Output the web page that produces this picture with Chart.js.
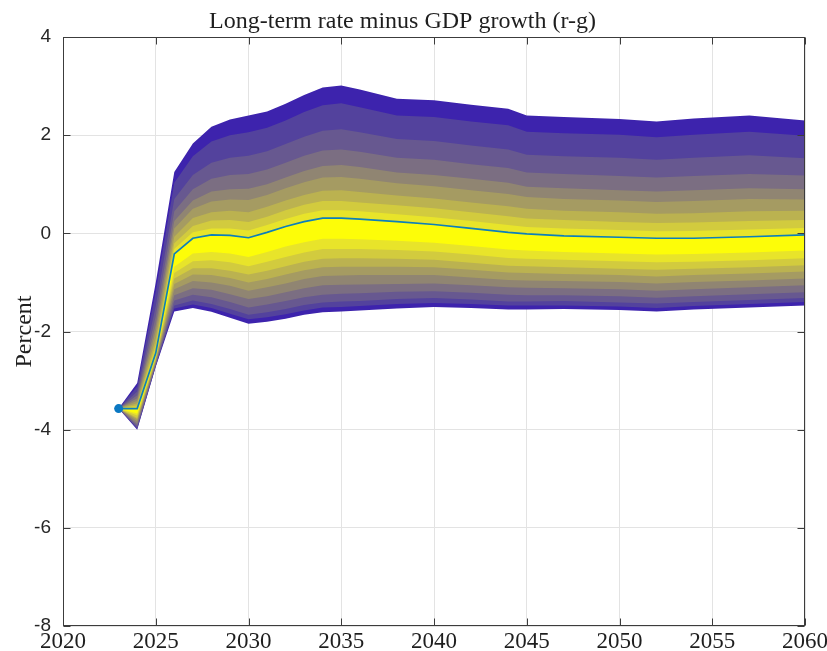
<!DOCTYPE html>
<html>
<head>
<meta charset="utf-8">
<script src="https://cdn.jsdelivr.net/npm/chart.js@4.4.1/dist/chart.umd.min.js"></script>
<style>
  html, body { margin: 0; padding: 0; background: #ffffff; overflow: hidden; }
  canvas { display: block; }
</style>
</head>
<body>
<canvas id="c" width="827" height="651"></canvas>
<script>
// Projection years
const years = [2023, 2024, 2025, 2026, 2027, 2028, 2029, 2030, 2031, 2032, 2033, 2034, 2035, 2036, 2038, 2040, 2042, 2044, 2045, 2047, 2050, 2052, 2054, 2057, 2060];

// Central projection of r-g (percent)
const projection = [-3.57, -3.57, -2.44, -0.42, -0.10, -0.03, -0.04, -0.09, 0.02, 0.14, 0.24, 0.31, 0.31, 0.29, 0.24, 0.18, 0.10, 0.02, -0.01, -0.05, -0.08, -0.10, -0.10, -0.07, -0.03];

// Fan edges, lowest (f00) to highest (f20); f11 is the central projection
const f00 = [-3.57, -4.00, -2.72, -1.59, -1.52, -1.60, -1.72, -1.84, -1.80, -1.74, -1.66, -1.61, -1.59, -1.57, -1.53, -1.50, -1.52, -1.55, -1.55, -1.54, -1.56, -1.59, -1.55, -1.51, -1.47];
const f01 = [-3.57, -3.98, -2.71, -1.53, -1.45, -1.52, -1.64, -1.75, -1.71, -1.65, -1.57, -1.51, -1.50, -1.48, -1.44, -1.42, -1.44, -1.47, -1.47, -1.47, -1.49, -1.52, -1.48, -1.44, -1.40];
const f02 = [-3.57, -3.96, -2.69, -1.47, -1.37, -1.44, -1.54, -1.66, -1.61, -1.54, -1.46, -1.41, -1.39, -1.38, -1.34, -1.32, -1.35, -1.39, -1.39, -1.38, -1.41, -1.43, -1.40, -1.36, -1.32];
const f03 = [-3.57, -3.92, -2.67, -1.37, -1.25, -1.30, -1.40, -1.51, -1.45, -1.38, -1.30, -1.25, -1.23, -1.22, -1.19, -1.18, -1.21, -1.25, -1.26, -1.26, -1.28, -1.31, -1.28, -1.24, -1.20];
const f04 = [-3.57, -3.88, -2.64, -1.26, -1.12, -1.15, -1.24, -1.34, -1.28, -1.20, -1.12, -1.06, -1.05, -1.04, -1.03, -1.02, -1.06, -1.10, -1.11, -1.12, -1.14, -1.17, -1.14, -1.10, -1.06];
const f05 = [-3.57, -3.83, -2.61, -1.14, -0.97, -1.00, -1.07, -1.17, -1.10, -1.02, -0.93, -0.87, -0.86, -0.85, -0.85, -0.85, -0.90, -0.95, -0.96, -0.97, -0.99, -1.02, -0.99, -0.96, -0.92];
const f06 = [-3.57, -3.79, -2.59, -1.03, -0.84, -0.85, -0.91, -1.00, -0.93, -0.84, -0.75, -0.69, -0.68, -0.68, -0.68, -0.69, -0.74, -0.80, -0.81, -0.83, -0.85, -0.88, -0.85, -0.82, -0.78];
const f07 = [-3.57, -3.76, -2.56, -0.92, -0.71, -0.71, -0.76, -0.84, -0.76, -0.67, -0.58, -0.52, -0.51, -0.51, -0.52, -0.54, -0.60, -0.66, -0.67, -0.69, -0.72, -0.74, -0.72, -0.69, -0.65];
const f08 = [-3.57, -3.71, -2.53, -0.81, -0.57, -0.55, -0.59, -0.67, -0.58, -0.48, -0.39, -0.32, -0.32, -0.32, -0.34, -0.37, -0.43, -0.50, -0.52, -0.54, -0.57, -0.59, -0.58, -0.55, -0.51];
const f09 = [-3.57, -3.67, -2.50, -0.68, -0.41, -0.38, -0.41, -0.48, -0.38, -0.27, -0.18, -0.11, -0.11, -0.12, -0.15, -0.19, -0.26, -0.33, -0.35, -0.38, -0.41, -0.43, -0.42, -0.39, -0.35];
const f10 = [-3.57, -3.62, -2.47, -0.55, -0.26, -0.20, -0.23, -0.28, -0.18, -0.07, 0.03, 0.10, 0.10, 0.09, 0.05, 0.00, -0.08, -0.15, -0.18, -0.21, -0.24, -0.26, -0.26, -0.23, -0.19];
const f12 = [-3.57, -3.54, -2.35, -0.32, 0.02, 0.10, 0.10, 0.06, 0.17, 0.29, 0.40, 0.47, 0.47, 0.45, 0.39, 0.33, 0.25, 0.17, 0.13, 0.10, 0.07, 0.04, 0.05, 0.08, 0.11];
const f13 = [-3.57, -3.50, -2.25, -0.20, 0.15, 0.26, 0.27, 0.23, 0.34, 0.47, 0.58, 0.66, 0.66, 0.63, 0.57, 0.51, 0.43, 0.35, 0.30, 0.27, 0.23, 0.21, 0.22, 0.25, 0.27];
const f14 = [-3.57, -3.46, -2.14, -0.07, 0.31, 0.43, 0.46, 0.43, 0.54, 0.67, 0.78, 0.87, 0.88, 0.84, 0.77, 0.71, 0.63, 0.55, 0.50, 0.46, 0.43, 0.40, 0.41, 0.45, 0.46];
const f15 = [-3.57, -3.41, -1.99, 0.10, 0.50, 0.65, 0.69, 0.68, 0.78, 0.92, 1.04, 1.14, 1.15, 1.11, 1.02, 0.96, 0.88, 0.80, 0.74, 0.70, 0.67, 0.64, 0.66, 0.70, 0.69];
const f16 = [-3.57, -3.36, -1.86, 0.25, 0.67, 0.85, 0.90, 0.91, 1.00, 1.14, 1.27, 1.37, 1.39, 1.35, 1.24, 1.19, 1.11, 1.03, 0.95, 0.92, 0.88, 0.85, 0.88, 0.92, 0.90];
const f17 = [-3.57, -3.30, -1.69, 0.45, 0.90, 1.11, 1.19, 1.21, 1.30, 1.44, 1.58, 1.69, 1.71, 1.66, 1.54, 1.50, 1.41, 1.33, 1.24, 1.21, 1.17, 1.14, 1.17, 1.21, 1.18];
const f18 = [-3.57, -3.22, -1.48, 0.70, 1.19, 1.44, 1.54, 1.58, 1.67, 1.82, 1.97, 2.09, 2.12, 2.06, 1.92, 1.88, 1.79, 1.71, 1.60, 1.57, 1.54, 1.50, 1.54, 1.59, 1.53];
const f19 = [-3.57, -3.12, -1.19, 1.03, 1.57, 1.87, 2.00, 2.06, 2.15, 2.30, 2.47, 2.61, 2.65, 2.57, 2.40, 2.37, 2.28, 2.20, 2.07, 2.04, 2.01, 1.96, 2.01, 2.07, 1.99];
const f20 = [-3.57, -3.05, -1.00, 1.25, 1.83, 2.17, 2.32, 2.40, 2.48, 2.64, 2.82, 2.97, 3.01, 2.93, 2.74, 2.71, 2.62, 2.54, 2.40, 2.37, 2.33, 2.28, 2.34, 2.40, 2.30];

// Axis ticks
const xTicks = [2020, 2025, 2030, 2035, 2040, 2045, 2050, 2055, 2060];
const yTicks = [-8, -6, -4, -2, 0, 2, 4];

const fanEdges = [f00, f01, f02, f03, f04, f05, f06, f07, f08, f09, f10, projection,
                  f12, f13, f14, f15, f16, f17, f18, f19, f20];

// Band colours, centre pair outwards
const bandColours = ['#fdfd08', '#e8e42a', '#d2cb3e', '#bbb250', '#a59b62', '#908572',
                     '#7b6e82', '#675890', '#53429d', '#3d23ad'];

const toPoints = arr => years.map((yr, i) => ({ x: yr, y: arr[i] }));

const datasets = [{
  label: 'Projection',
  data: toPoints(projection),
  borderColor: '#0d7fba',
  backgroundColor: '#0a78c2',
  borderWidth: 1.7,
  pointRadius: ctx => (ctx.dataIndex === 0 ? 4.5 : 0),
  pointBorderWidth: 0,
  pointBackgroundColor: '#0a78c2',
  fill: false,
  tension: 0
}];

// Each layer spans a symmetric pair of bands; inner layers are painted over outer ones
for (let k = 0; k < 10; k++) {
  const upperIdx = datasets.length;
  datasets.push({
    label: 'upper ' + k,
    data: toPoints(fanEdges[11 + k]),
    borderWidth: 0,
    pointRadius: 0,
    backgroundColor: bandColours[k],
    fill: upperIdx + 1,
    tension: 0
  });
  datasets.push({
    label: 'lower ' + k,
    data: toPoints(fanEdges[9 - k]),
    borderWidth: 0,
    pointRadius: 0,
    fill: false,
    tension: 0
  });
}

// Axes box with inward tick marks
const axesBox = {
  id: 'axesBox',
  afterDatasetsDraw(chart) {
    const { ctx, chartArea: a, scales: { x, y } } = chart;
    const L = Math.round(a.left) + 0.5, R = Math.round(a.right) - 0.5;
    const T = Math.round(a.top) + 0.5, B = Math.round(a.bottom) - 0.5;
    ctx.save();
    ctx.strokeStyle = '#3c3c3c';
    ctx.lineWidth = 1;
    ctx.strokeRect(L, T, R - L, B - T);
    ctx.beginPath();
    const len = 7;
    xTicks.forEach(v => {
      const px = Math.round(x.getPixelForValue(v)) + 0.5;
      ctx.moveTo(px, B); ctx.lineTo(px, B - len);
      ctx.moveTo(px, T); ctx.lineTo(px, T + len);
    });
    yTicks.forEach(v => {
      const py = Math.round(y.getPixelForValue(v)) + 0.5;
      ctx.moveTo(L, py); ctx.lineTo(L + len, py);
      ctx.moveTo(R, py); ctx.lineTo(R - len, py);
    });
    ctx.stroke();
    ctx.restore();
  }
};

new Chart(document.getElementById('c'), {
  type: 'line',
  data: { datasets },
  plugins: [axesBox],
  options: {
    responsive: false,
    animation: false,
    events: [],
    layout: { padding: { top: 0, right: 22, bottom: 0, left: 0 } },
    plugins: {
      legend: { display: false },
      tooltip: { enabled: false },
      filler: { propagate: false },
      title: {
        display: true,
        text: 'Long-term rate minus GDP growth (r-g)',
        color: '#1e1e1e',
        font: { family: '"Liberation Serif", "DejaVu Serif", serif', size: 24, weight: 'normal', lineHeight: 1.2 },
        padding: { top: 7, bottom: 1.2 }
      }
    },
    scales: {
      x: {
        type: 'linear',
        min: 2020,
        max: 2060,
        afterBuildTicks: s => { s.ticks = xTicks.map(v => ({ value: v })); },
        afterFit: s => { s.height = 25; s.paddingLeft = 0; s.paddingRight = 0; },
        grid: { color: '#e3e3e3', lineWidth: 1, drawTicks: false },
        border: { display: false },
        ticks: {
          padding: 2,
          maxRotation: 0,
          autoSkip: false,
          color: '#1e1e1e',
          font: { family: '"Liberation Serif", "DejaVu Serif", serif', size: 23 },
          callback: v => String(v)
        }
      },
      y: {
        type: 'linear',
        min: -8,
        max: 4,
        afterBuildTicks: s => { s.ticks = yTicks.map(v => ({ value: v })); },
        afterFit: s => { s.width = 63; s.paddingTop = 0; s.paddingBottom = 0; },
        grid: { color: '#e3e3e3', lineWidth: 1, drawTicks: false },
        border: { display: false },
        title: {
          display: true,
          text: 'Percent',
          color: '#1e1e1e',
          font: { family: '"Liberation Serif", "DejaVu Serif", serif', size: 24, lineHeight: 1.2 },
          padding: { top: 10, bottom: 0 }
        },
        ticks: {
          padding: 12,
          autoSkip: false,
          color: '#262626',
          font: { family: '"Liberation Sans", Arial, sans-serif', size: 19 },
          callback: v => String(v)
        }
      }
    }
  }
});
</script>
</body>
</html>
